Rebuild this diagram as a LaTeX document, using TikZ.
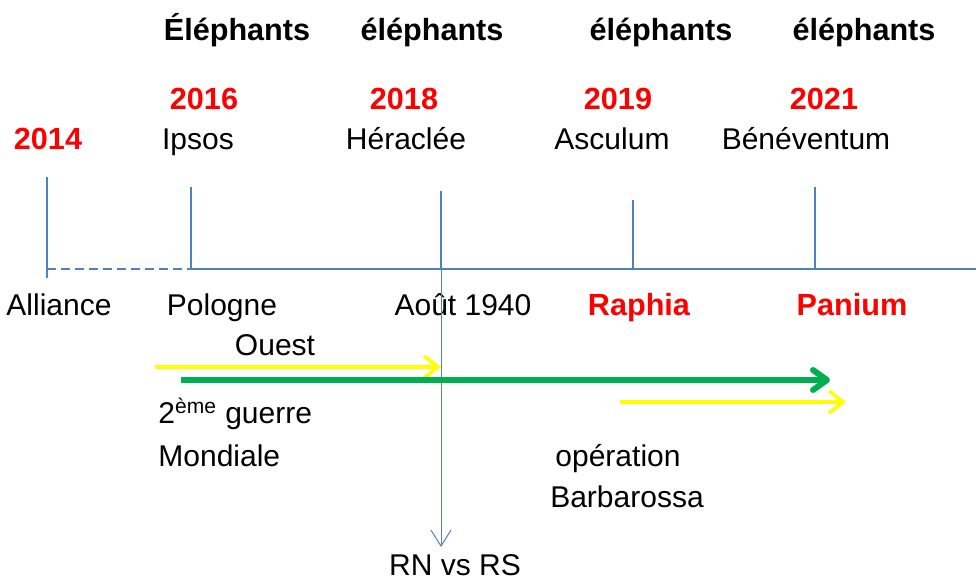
\documentclass[tikz,border=0pt]{standalone}
\usepackage{fontspec}
\setmainfont{Liberation Sans}
\usetikzlibrary{arrows.meta}
\definecolor{axisblue}{RGB}{79,129,189}
\definecolor{warred}{RGB}{255,0,0}
\definecolor{wargreen}{RGB}{0,176,80}
\definecolor{waryellow}{RGB}{255,255,0}

\begin{document}
\begin{tikzpicture}[x=0.5pt,y=-0.5pt,
	every node/.style={inner sep=0pt,text height=10.7pt,text depth=3.2pt,font=\fontsize{15}{18}\selectfont},
	year/.style={text=warred,font=\fontsize{15.3}{18}\selectfont\bfseries},
	battle/.style={text=warred,font=\fontsize{15.3}{18}\selectfont\bfseries},
	beast/.style={font=\fontsize{15.3}{18}\selectfont\bfseries},
	tick/.style={axisblue,line width=1pt},
	front/.style={waryellow,line width=1.8pt,-{Straight Barb[length=7pt,width=11pt,line width=1.8pt]}},
	war/.style={wargreen,line width=3pt,-{Straight Barb[length=7pt,width=10pt,line width=3pt,round]}}]
	\useasboundingbox (0,0) rectangle (976,579);
	% axe du temps
	\coordinate (t0) at (47,269);
	\coordinate (t1) at (191,269);
	\coordinate (t2) at (441,269);
	\coordinate (t3) at (633,269);
	\coordinate (t4) at (815,269);
	\coordinate (tend) at (976,269);
	\draw[tick,dash pattern=on 4.5pt off 2.5pt] (t0) -- (t1);
	\draw[tick] (t1) -- (tend);
	\draw[tick] (47,177) -- (47,278);
	\draw[tick] (191,187) -- (t1);
	\draw[tick] (441,191) -- (t2);
	\draw[tick] (633,200) -- (t3);
	\draw[tick] (815,187) -- (t4);
	% haut
	\node[beast] (e1) at (237,33) {Éléphants};
	\node[beast] (e2) at (432,33) {éléphants};
	\node[beast] (e3) at (661,33) {éléphants};
	\node[beast] (e4) at (864,33) {éléphants};
	\node[year] (y0) at (48,142) {2014};
	\node[year] (y1) at (204,102) {2016};
	\node[year] (y2) at (404,102) {2018};
	\node[year] (y3) at (618,102) {2019};
	\node[year] (y4) at (824,102) {2021};
	\node (b1) at (198,142) {Ipsos};
	\node (b2) at (406,142) {Héraclée};
	\node (b3) at (612,142) {Asculum};
	\node (b4) at (806,142) {Bénéventum};
	% bas
	\node (d0) at (59,308) {Alliance};
	\node (d1) at (222,308) {Pologne};
	\node (d2) at (463,308) {Août 1940};
	\node[battle] (d3) at (639,308) {Raphia};
	\node[battle] (d4) at (852,308) {Panium};
	\node (ouest) at (275,348) {Ouest};
	\node[anchor=west] (gm1) at (158,416) {2\textsuperscript{ème} guerre};
	\node[anchor=west] (gm2) at (158,459) {Mondiale};
	\node (op1) at (618,459) {opération};
	\node (op2) at (627,500) {Barbarossa};
	\node (rn) at (455,568) {RN vs RS};
	% fleches
	\coordinate (split) at (441,547);
	\draw[axisblue,line width=0.5pt,-{Straight Barb[length=8pt,width=10pt,line width=0.5pt]}] (t2) -- (split);
	\coordinate (o1) at (155,367);
	\coordinate (o2) at (441,367);
	\draw[front] (o1) -- (o2);
	\coordinate (w1) at (181,380);
	\coordinate (w2) at (830,380);
	\draw[war] (w1) -- (w2);
	\coordinate (r1) at (620,402);
	\coordinate (r2) at (846,402);
	\draw[front] (r1) -- (r2);
\end{tikzpicture}
\end{document}
